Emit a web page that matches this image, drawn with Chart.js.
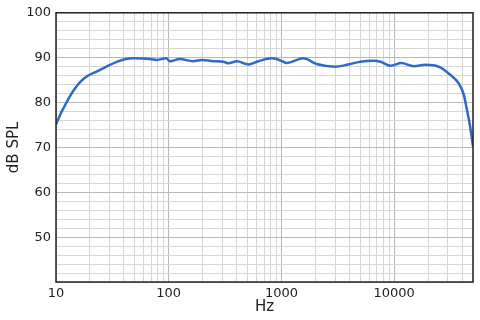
<!DOCTYPE html>
<html>
<head>
<meta charset="utf-8">
<script src="https://cdn.jsdelivr.net/npm/chart.js@4/dist/chart.umd.min.js"></script>
<style>
html,body{margin:0;padding:0;background:#fff;}
#wrap{width:480px;height:320px;}
</style>
</head>
<body>
<div id="wrap"><canvas id="c" width="480" height="320"></canvas></div>
<script>
const freqHz = [10, 11, 11.8, 13, 14.5, 16.6, 19, 23.3, 28.6, 35, 41.6, 49.3, 68.6, 78.3, 95, 103, 125, 165, 197, 249, 305, 339, 403, 509, 623, 822, 1040, 1110, 1564, 2052, 3006, 3804, 5000, 6570, 7540, 9290, 11600, 14900, 18900, 25300, 30600, 37500, 41600, 43900, 46900, 50000];
const splDb = [75.1, 77.5, 79.0, 81.0, 82.9, 84.7, 85.9, 87.0, 88.1, 89.1, 89.7, 89.85, 89.7, 89.5, 89.85, 89.2, 89.7, 89.2, 89.5, 89.2, 89.1, 88.75, 89.2, 88.5, 89.2, 89.85, 89.1, 88.8, 89.85, 88.6, 88.0, 88.4, 89.1, 89.3, 89.1, 88.2, 88.8, 88.1, 88.4, 87.9, 86.4, 84.2, 81.6, 78.7, 75.0, 70.2];
const xTickLabels = [10, 100, 1000, 10000];
const yTickLabels = [50, 60, 70, 80, 90, 100];
const xMin = 10, xMax = 50000, yMin = 40, yMax = 100;

const FONT = "'DejaVu Sans', sans-serif";
const points = freqHz.map((f, i) => ({x: f, y: splDb[i]}));

const frame = {
  id: 'frame',
  afterDatasetsDraw(chart) {
    const a = chart.chartArea, ctx = chart.ctx;
    ctx.save();
    ctx.strokeStyle = '#222';
    ctx.lineWidth = 1.5;
    ctx.strokeRect(a.left, a.top, a.right - a.left, a.bottom - a.top);
    ctx.restore();
  }
};

new Chart(document.getElementById('c'), {
  type: 'line',
  data: {
    datasets: [{
      data: points,
      borderColor: '#2f6ac4',
      borderWidth: 2.5,
      pointRadius: 0,
      fill: false,
      tension: 0.4,
      cubicInterpolationMode: 'monotone'
    }]
  },
  plugins: [frame],
  options: {
    responsive: false,
    animation: false,
    layout: {padding: {top: 10, right: 7, left: 0, bottom: 0}},
    plugins: {legend: {display: false}, tooltip: {enabled: false}},
    scales: {
      x: {
        type: 'logarithmic',
        min: xMin, max: xMax,
        afterBuildTicks(scale) {
          const t = [];
          for (let p = 10; p <= xMax; p *= 10) {
            for (let d = 1; d <= 9; d++) {
              const v = d * p;
              if (v >= xMin && v <= xMax) t.push({value: v});
            }
          }
          scale.ticks = t;
        },
        afterFit(scale) { scale.height = 38; },
        ticks: {
          autoSkip: false, maxRotation: 0, padding: 4,
          color: '#222', font: {family: FONT, size: 13},
          callback: (v) => xTickLabels.includes(v) ? String(v) : ''
        },
        grid: {
          drawTicks: false,
          color: (c) => xTickLabels.includes(c.tick && c.tick.value) ? '#b8b8b8' : '#d6d6d6',
          lineWidth: 1
        },
        border: {display: false},
        title: {display: true, text: 'Hz', color: '#222', font: {family: FONT, size: 15}, padding: {top: 0, bottom: 4}}
      },
      y: {
        min: yMin, max: yMax,
        afterFit(scale) { scale.width = 56; },
        ticks: {
          stepSize: 2, autoSkip: false, padding: 5,
          color: '#222', font: {family: FONT, size: 13},
          callback: (v) => yTickLabels.includes(v) ? String(v) : ''
        },
        grid: {
          drawTicks: false,
          color: (c) => (c.tick && c.tick.value % 10 === 0) ? '#b8b8b8' : '#d6d6d6',
          lineWidth: 1
        },
        border: {display: false},
        title: {display: true, text: 'dB SPL', color: '#222', font: {family: FONT, size: 15}, padding: {top: 5, bottom: 0}}
      }
    }
  }
});
</script>
</body>
</html>
